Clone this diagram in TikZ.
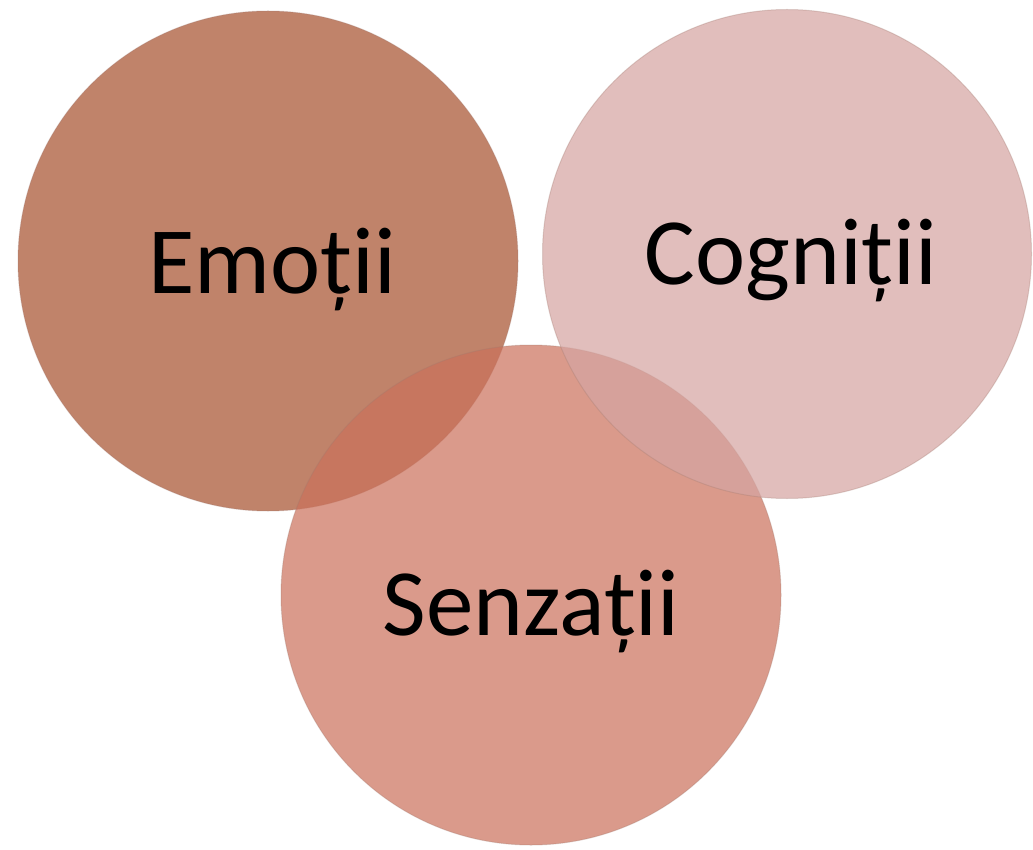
\documentclass[tikz,border=0pt]{standalone}
\usepackage{fontspec}
\setmainfont{Carlito}
\definecolor{emoC}{RGB}{192,131,106}
\definecolor{senC}{RGB}{203,113,91}
\definecolor{cogC}{RGB}{213,165,162}
\definecolor{rimC}{RGB}{160,120,110}
\tikzset{
  bubble/.style={circle, inner sep=0pt, draw=rimC, line width=1pt, draw opacity=0.3},
  lbl/.style={anchor=base, text=black, font=\fontsize{95}{110}\selectfont, inner sep=0pt}
}
\begin{document}
\begin{tikzpicture}[x=1pt,y=-1pt]
\useasboundingbox (0,0) rectangle (1033,850);
\node[bubble, fill=emoC, minimum size=500pt] (emo) at (268,261) {};
\node[bubble, fill=senC, fill opacity=0.71, minimum size=500pt] (sen) at (531,595) {};
\node[bubble, fill=cogC, fill opacity=0.72, minimum size=489pt] (cog) at (787,254) {};
\node[lbl] (temo) at (272,294) {Emoții};
\node[lbl] (tcog) at (791,285) {Cogniții};
\node[lbl] (tsen) at (531,635) {Senzații};
\end{tikzpicture}
\end{document}
